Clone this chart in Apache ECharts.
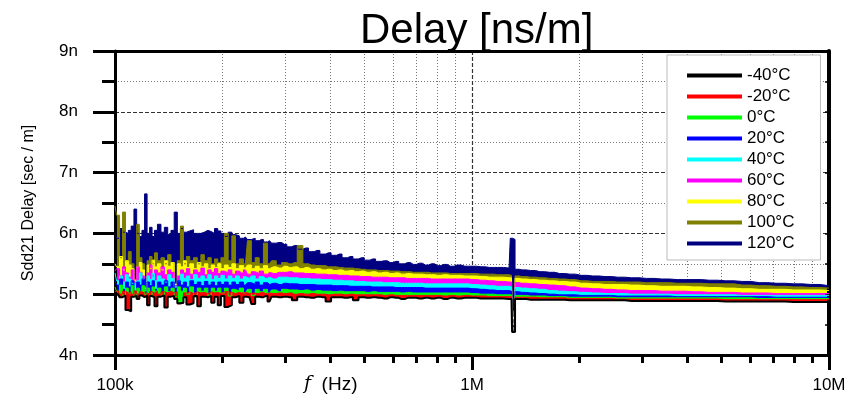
<!DOCTYPE html>
<html>
<head>
<meta charset="utf-8">
<script src="https://cdn.jsdelivr.net/npm/echarts@6/dist/echarts.min.js"></script>
<style>
html, body { margin: 0; padding: 0; background: #fff; }
#chart { width: 854px; height: 400px; }
</style>
</head>
<body>
<div id="chart"></div>
<script>
// frequencies in kHz
var freqKHz = [100,102,104,106,108,110,112,114,116,118,
    120,122,124,126,128,130,133,136,139,142,
    145,148,151,154,157,160,164,168,172,176,
    180,184,188,192,196,200,205,210,215,220,
    226,232,238,244,250,257,264,271,278,288,
    298,308,318,330,342,355,368,382,396,410,
    425,440,456,472,490,508,527,547,568,590,
    612,635,660,685,712,740,770,800,835,870,
    910,955,
    1000,1060,1120,1180,1270,1290,1300,1310,1330,1380,
    1460,1550,1650,1760,1880,2020,2180,2360,2560,2800,
    3080,3400,3760,4160,4620,5140,5720,6380,7120,7960,
    8900,10000];

var tempNames = ['-40°C', '-20°C', '0°C', '20°C', '40°C', '60°C', '80°C', '100°C', '120°C'];
var tempColors = ['#000000', '#ff0000', '#00ff00', '#0000ff', '#00ffff', '#ff00ff', '#ffff00', '#808000', '#000080'];

var xMajorLabels = {100000: '100k', 1000000: '1M', 10000000: '10M'};
var xMinorTicks = [2e5,3e5,4e5,5e5,6e5,7e5,8e5,9e5,2e6,3e6,4e6,5e6,6e6,7e6,8e6,9e6];

// delay in ns/m (upper edge of each trace band)
var delayM40 = [4.98,5.0,4.95,4.98,4.74,4.72,4.96,4.97,4.92,4.98,
    4.95,4.98,4.82,4.97,4.95,4.8,4.96,4.98,4.78,4.96,
    4.97,4.92,4.85,4.86,4.95,4.83,4.85,4.97,4.8,4.96,
    4.95,4.97,4.86,4.96,4.82,4.97,4.79,4.82,4.95,4.97,
    4.86,4.96,4.95,4.84,4.96,4.95,4.97,4.88,4.96,4.95,
    4.96,4.95,4.9,4.96,4.95,4.94,4.96,4.95,4.88,4.95,
    4.95,4.94,4.95,4.9,4.95,4.94,4.95,4.94,4.93,4.95,
    4.94,4.92,4.94,4.94,4.93,4.94,4.93,4.94,4.92,4.94,
    4.93,4.94,
    4.94,4.93,4.93,4.93,4.92,4.92,4.38,4.38,4.92,4.92,
    4.91,4.91,4.91,4.91,4.9,4.9,4.9,4.9,4.9,4.89,
    4.89,4.89,4.89,4.89,4.89,4.88,4.88,4.88,4.88,4.87,
    4.87,4.87];

var delayM20 = [5.04,5.06,5.0,5.05,5.02,5.04,5.0,5.05,5.0,5.04,
    5.02,5.02,5.0,5.04,5.02,5.05,5.0,5.04,5.02,5.05,
    5.02,5.04,4.84,4.85,5.02,5.04,5.01,5.04,5.02,5.03,
    5.01,5.04,5.02,5.03,5.01,5.04,5.04,5.03,5.01,5.03,
    5.02,5.03,5.01,5.02,5.01,5.03,5.01,5.02,5.01,5.02,
    5.01,5.02,5.0,5.01,5.0,5.01,5.0,5.0,4.99,5.0,
    5.0,4.99,5.0,4.99,4.99,4.99,4.99,4.99,4.98,4.99,
    4.98,4.98,4.98,4.98,4.98,4.98,4.98,4.98,4.97,4.98,
    4.97,4.98,
    4.97,4.97,4.96,4.96,4.96,4.96,4.41,4.41,4.95,4.95,
    4.95,4.94,4.94,4.94,4.93,4.93,4.93,4.93,4.92,4.92,
    4.92,4.92,4.92,4.92,4.92,4.91,4.91,4.91,4.91,4.91,
    4.91,4.91];

var delay0 = [5.12,5.05,5.15,4.98,5.1,5.02,5.14,4.95,5.1,5.05,
    5.14,5.0,5.1,4.96,5.12,5.05,5.1,4.98,5.12,5.04,
    5.1,4.96,5.12,5.05,5.1,5.0,5.12,4.95,5.1,5.05,
    5.1,4.98,5.1,5.05,5.1,5.02,5.1,4.97,5.08,5.05,
    5.1,5.02,5.08,4.98,5.08,5.04,5.08,5.02,5.07,5.04,
    5.08,5.07,5.07,5.06,5.07,5.05,5.06,5.05,5.05,5.04,
    5.05,5.04,5.04,5.04,5.04,5.03,5.04,5.03,5.03,5.03,
    5.03,5.02,5.03,5.02,5.02,5.02,5.02,5.02,5.02,5.02,
    5.02,5.02,
    5.01,5.0,5.0,4.99,4.99,4.99,4.45,4.45,4.98,4.98,
    4.97,4.97,4.96,4.96,4.95,4.95,4.95,4.95,4.94,4.94,
    4.94,4.94,4.94,4.94,4.94,4.94,4.94,4.93,4.93,4.93,
    4.93,4.93];

var delay20 = [5.22,5.15,5.25,5.08,5.2,5.12,5.22,5.05,5.2,5.15,
    5.25,5.04,5.2,5.14,5.22,5.08,5.2,5.15,5.22,5.12,
    5.2,5.1,5.22,5.15,5.2,5.12,5.22,5.16,5.2,5.14,
    5.21,5.15,5.2,5.14,5.2,5.16,5.2,5.15,5.2,5.16,
    5.2,5.15,5.19,5.16,5.2,5.15,5.19,5.16,5.18,5.16,
    5.18,5.17,5.17,5.16,5.16,5.16,5.15,5.15,5.15,5.14,
    5.14,5.14,5.13,5.13,5.13,5.13,5.12,5.12,5.12,5.12,
    5.11,5.11,5.11,5.11,5.11,5.1,5.1,5.1,5.1,5.1,
    5.1,5.1,
    5.09,5.08,5.07,5.06,5.06,5.05,4.48,4.48,5.04,5.03,
    5.02,5.01,5.0,4.99,4.99,4.98,4.98,4.98,4.97,4.97,
    4.97,4.97,4.96,4.96,4.96,4.96,4.96,4.96,4.95,4.95,
    4.95,4.95];

var delay40 = [5.35,5.22,5.3,5.2,5.32,5.25,5.18,5.18,5.22,5.35,
    5.25,5.06,5.3,5.24,5.34,5.22,5.3,5.25,5.2,5.32,
    5.26,5.12,5.22,5.33,5.26,5.3,5.24,5.32,5.26,5.3,
    5.25,5.32,5.24,5.3,5.26,5.31,5.25,5.3,5.26,5.3,
    5.25,5.29,5.26,5.3,5.25,5.29,5.26,5.28,5.25,5.28,
    5.28,5.27,5.27,5.26,5.26,5.25,5.25,5.24,5.24,5.23,
    5.23,5.22,5.22,5.21,5.21,5.2,5.2,5.2,5.19,5.19,
    5.19,5.18,5.18,5.18,5.18,5.17,5.17,5.17,5.17,5.17,
    5.17,5.17,
    5.16,5.15,5.14,5.13,5.13,5.12,4.52,4.52,5.11,5.1,
    5.09,5.08,5.06,5.05,5.04,5.03,5.02,5.01,5.01,5.0,
    5.0,5.0,4.99,4.99,4.99,4.99,4.98,4.98,4.98,4.98,
    4.98,4.98];

var delay60 = [5.38,5.42,5.3,5.45,5.35,5.28,5.4,5.2,5.45,5.36,
    5.3,5.08,5.35,5.48,5.3,5.4,5.35,5.45,5.32,5.4,
    5.36,5.14,5.3,5.4,5.35,5.42,5.33,5.4,5.36,5.43,
    5.32,5.4,5.36,5.42,5.34,5.38,5.35,5.4,5.33,5.38,
    5.35,5.4,5.33,5.37,5.34,5.38,5.33,5.36,5.34,5.36,
    5.36,5.37,5.35,5.35,5.34,5.34,5.33,5.33,5.32,5.32,
    5.31,5.31,5.3,5.3,5.29,5.29,5.28,5.28,5.28,5.27,
    5.27,5.27,5.26,5.26,5.26,5.26,5.25,5.25,5.25,5.25,
    5.25,5.25,
    5.24,5.23,5.22,5.21,5.2,5.2,4.58,4.58,5.19,5.18,
    5.17,5.16,5.15,5.14,5.12,5.1,5.09,5.08,5.07,5.06,
    5.06,5.05,5.05,5.04,5.03,5.03,5.02,5.02,5.01,5.01,
    5.01,5.01];

var delay80 = [5.5,5.45,5.62,5.4,5.55,5.48,5.42,5.22,5.45,5.52,
    5.4,5.1,5.48,5.42,5.56,5.45,5.5,5.4,5.55,5.46,
    5.52,5.16,5.5,5.45,5.55,5.44,5.5,5.42,5.52,5.45,
    5.5,5.42,5.48,5.44,5.5,5.42,5.48,5.44,5.5,5.42,
    5.47,5.43,5.48,5.42,5.46,5.42,5.47,5.42,5.45,5.43,
    5.46,5.44,5.45,5.42,5.44,5.41,5.42,5.4,5.41,5.39,
    5.4,5.38,5.39,5.37,5.38,5.36,5.37,5.35,5.36,5.34,
    5.35,5.33,5.34,5.33,5.33,5.32,5.32,5.31,5.32,5.31,
    5.31,5.3,
    5.3,5.29,5.28,5.28,5.27,5.27,4.62,4.62,5.26,5.25,
    5.24,5.23,5.22,5.21,5.2,5.18,5.17,5.16,5.16,5.15,
    5.14,5.13,5.13,5.12,5.11,5.1,5.09,5.08,5.08,5.07,
    5.07,5.06];

var delay100 = [6.45,6.3,5.6,6.35,5.55,5.7,5.5,5.25,6.15,5.6,
    5.5,5.12,5.55,5.62,5.5,5.68,5.55,5.6,5.5,5.65,
    5.52,5.18,5.55,6.12,5.5,5.62,5.55,5.6,5.5,5.65,
    5.55,5.6,5.5,5.58,5.52,5.6,6.0,5.55,5.96,5.5,
    5.58,5.5,5.88,5.52,5.6,5.5,5.84,5.5,5.55,5.48,
    5.52,5.5,5.52,5.8,5.5,5.48,5.47,5.47,5.45,5.45,
    5.44,5.43,5.43,5.42,5.41,5.4,5.4,5.39,5.39,5.38,
    5.38,5.37,5.37,5.36,5.36,5.36,5.35,5.35,5.35,5.34,
    5.34,5.34,
    5.34,5.33,5.33,5.32,5.32,5.31,4.72,4.72,5.3,5.29,
    5.28,5.27,5.26,5.25,5.24,5.22,5.21,5.21,5.2,5.2,
    5.19,5.19,5.18,5.18,5.17,5.17,5.15,5.14,5.13,5.12,
    5.11,5.1];

var delay120 = [6.0,5.92,6.08,6.02,6.0,6.05,6.12,6.4,6.0,5.95,
    6.05,6.65,6.0,6.1,5.95,6.05,6.15,6.02,6.1,5.98,
    6.05,6.35,6.0,6.08,6.02,6.04,6.06,6.0,6.0,6.02,
    6.05,6.03,6.0,6.08,6.04,6.0,5.95,6.02,5.98,5.96,
    5.92,5.94,5.9,5.92,5.88,5.9,5.86,5.88,5.84,5.85,
    5.82,5.78,5.8,5.74,5.76,5.7,5.72,5.66,5.68,5.64,
    5.66,5.6,5.62,5.58,5.6,5.56,5.58,5.54,5.55,5.52,
    5.54,5.5,5.52,5.49,5.51,5.48,5.5,5.47,5.49,5.46,
    5.48,5.46,
    5.46,5.45,5.44,5.44,5.43,5.92,5.92,5.9,5.41,5.4,
    5.39,5.37,5.36,5.34,5.33,5.31,5.3,5.29,5.28,5.27,
    5.26,5.25,5.24,5.24,5.23,5.22,5.21,5.19,5.18,5.17,
    5.16,5.14];

var allDelays = [delayM40, delayM20, delay0, delay20, delay40, delay60, delay80, delay100, delay120];

var fontName = 'Liberation Sans';

function toPoints(vals) {
    var pts = [];
    for (var j = 0; j < freqKHz.length; j++) {
        pts.push([freqKHz[j] * 1000, vals[j]]);
    }
    return pts;
}

// draw hottest first so each cooler trace sits on top; each fills down to the axis,
// so a band shows between its own edge and the next cooler one
var series = [];
for (var i = allDelays.length - 1; i >= 1; i--) {
    series.push({
        type: 'line',
        name: tempNames[i],
        data: toPoints(allDelays[i]),
        step: 'middle',
        symbol: 'none',
        showSymbol: false,
        xAxisIndex: 0,
        yAxisIndex: 0,
        lineStyle: { color: tempColors[i], width: 1 },
        itemStyle: { color: tempColors[i] },
        areaStyle: { color: tempColors[i], opacity: 1, origin: 'start' }
    });
}
// coldest trace: white below it to clear the rest
series.push({
    type: 'line',
    name: tempNames[0],
    data: toPoints(allDelays[0]),
    step: 'middle',
    symbol: 'none',
    showSymbol: false,
    xAxisIndex: 0,
    yAxisIndex: 0,
    lineStyle: { color: tempColors[0], width: 2 },
    itemStyle: { color: tempColors[0] },
    areaStyle: { color: '#fff', opacity: 1, origin: 'start' }
});

var gridDash = { color: '#333', type: [4, 2], width: 1.2 };
var gridDot = { color: '#777', type: [1, 2], width: 1 };
var labelFont = { fontSize: 17, color: '#000', fontFamily: fontName };

function logAxis(extra) {
    var ax = { type: 'log', logBase: 10, min: 1e5, max: 1e7 };
    for (var k in extra) ax[k] = extra[k];
    return ax;
}

var myChart = echarts.init(document.getElementById('chart'), null, { renderer: 'canvas' });

var option = {
    backgroundColor: '#fff',
    animation: false,
    title: {
        text: 'Delay [ns/m]',
        left: 360,
        top: 10,
        padding: 0,
        textStyle: { fontSize: 42, fontWeight: 'normal', color: '#000', fontFamily: fontName }
    },
    grid: [
        { left: 115, right: 25, top: 51, bottom: 45, outerBoundsMode: 'none' },
        { left: 115, right: 25, top: 51, bottom: 45, outerBoundsMode: 'none' },
        { left: 115, right: 25, top: 302, bottom: 45, outerBoundsMode: 'none' }
    ],
    legend: {
        orient: 'vertical',
        left: 667,
        top: 55,
        padding: [12, 26, 8, 20],
        icon: 'rect',
        itemWidth: 55,
        itemHeight: 4,
        itemGap: 4,
        backgroundColor: '#fff',
        borderColor: '#bbb',
        borderWidth: 1,
        textStyle: labelFont,
        data: tempNames
    },
    xAxis: [
        // grid lines under the data
        logAxis({ gridIndex: 0, axisLine: { show: false }, axisTick: { show: false }, axisLabel: { show: false },
            splitLine: { show: true, lineStyle: gridDash } }),
        logAxis({ gridIndex: 0, axisLine: { show: false }, axisLabel: { show: false },
            axisTick: { show: true, length: 0, customValues: xMinorTicks },
            splitLine: { show: true, lineStyle: gridDot } }),
        // frame, ticks and labels on top
        logAxis({ gridIndex: 1, position: 'bottom', z: 3,
            axisLine: { show: true, onZero: false, lineStyle: { color: '#000', width: 3 } },
            axisTick: { show: true, length: 15, lineStyle: { color: '#000', width: 3 } },
            axisLabel: {
                margin: 22, fontSize: 17, color: '#000', fontFamily: fontName,
                formatter: function (value) { return xMajorLabels[Math.round(value)] || ''; }
            },
            splitLine: { show: false } }),
        logAxis({ gridIndex: 1, position: 'bottom', z: 3,
            axisLine: { show: false }, axisLabel: { show: false },
            axisTick: { show: true, customValues: xMinorTicks, length: 8, lineStyle: { color: '#000', width: 3 } },
            splitLine: { show: false } }),
        logAxis({ gridIndex: 1, position: 'top', z: 3,
            axisLine: { show: true, onZero: false, lineStyle: { color: '#000', width: 3 } },
            axisTick: { show: false }, axisLabel: { show: false }, splitLine: { show: false } }),
        // grid lines under the lowest trace
        logAxis({ gridIndex: 2, z: 3, axisLine: { show: false }, axisLabel: { show: false },
            axisTick: { show: true, length: 0, customValues: xMinorTicks.concat([1e6]) },
            splitLine: { show: true, lineStyle: gridDot } })
    ],
    yAxis: [
        { type: 'value', gridIndex: 0, min: 4, max: 9, interval: 1,
            axisLine: { show: false }, axisTick: { show: false }, axisLabel: { show: false },
            minorTick: { show: false, splitNumber: 2 },
            splitLine: { show: true, lineStyle: gridDash },
            minorSplitLine: { show: true, lineStyle: gridDot } },
        { type: 'value', gridIndex: 1, min: 4, max: 9, interval: 1, position: 'left', z: 3,
            name: 'Sdd21 Delay [sec / m]',
            nameLocation: 'middle',
            nameGap: 78,
            nameTextStyle: { fontSize: 16, color: '#000', fontFamily: fontName },
            axisLine: { show: true, onZero: false, lineStyle: { color: '#000', width: 3 } },
            axisTick: { show: true, length: 22, lineStyle: { color: '#000', width: 3 } },
            minorTick: { show: true, splitNumber: 2, length: 13, lineStyle: { color: '#000', width: 3 } },
            axisLabel: {
                margin: 37, fontSize: 17, color: '#000', fontFamily: fontName,
                formatter: function (value) { return value + 'n'; }
            },
            splitLine: { show: false } },
        { type: 'value', gridIndex: 1, min: 4, max: 9, interval: 0.5, position: 'right', z: 3,
            axisLine: { show: true, onZero: false, lineStyle: { color: '#000', width: 4 } },
            axisTick: { show: true, inside: true, length: 4, lineStyle: { color: '#000', width: 1.5 } },
            axisLabel: { show: false },
            splitLine: { show: false } },
        { type: 'value', gridIndex: 2, min: 4, max: 4.87, z: 3,
            axisLine: { show: false }, axisLabel: { show: false },
            axisTick: { show: true, length: 0, customValues: [4.5] },
            splitLine: { show: true, lineStyle: gridDot } }
    ],
    graphic: [{
        type: 'text',
        left: 304,
        top: 375,
        style: {
            text: '{i|f}  (Hz)',
            fill: '#000',
            font: '19px "Liberation Sans"',
            rich: {
                i: { fontStyle: 'italic', fontSize: 19, fontFamily: 'DejaVu Serif', fill: '#000' }
            }
        }
    }],
    series: series
};

myChart.setOption(option);
</script>
</body>
</html>
